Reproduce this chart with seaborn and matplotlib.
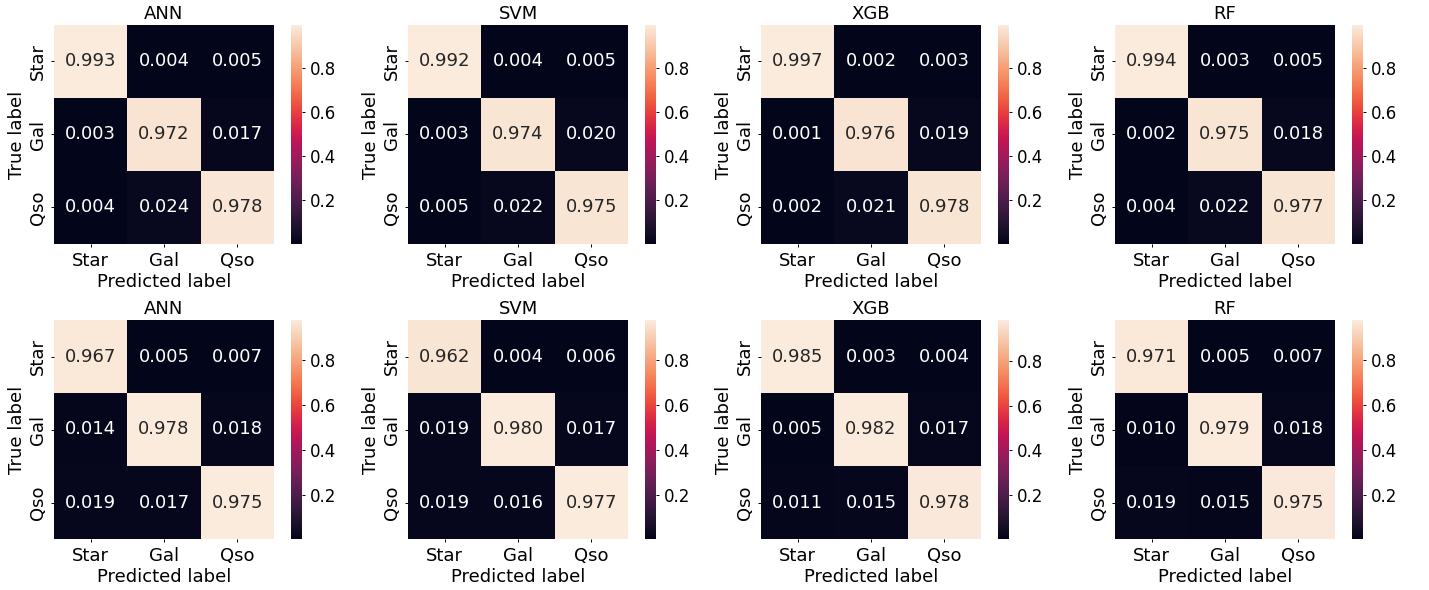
import numpy as np
import matplotlib
matplotlib.use("Agg")
import matplotlib.pyplot as plt
import seaborn as sns

labels = ["Star", "Gal", "Qso"]
models = ["ANN", "SVM", "XGB", "RF"]

# top row
ann_top = [[0.993, 0.004, 0.005], [0.003, 0.972, 0.017], [0.004, 0.024, 0.978]]
svm_top = [[0.992, 0.004, 0.005], [0.003, 0.974, 0.020], [0.005, 0.022, 0.975]]
xgb_top = [[0.997, 0.002, 0.003], [0.001, 0.976, 0.019], [0.002, 0.021, 0.978]]
rf_top = [[0.994, 0.003, 0.005], [0.002, 0.975, 0.018], [0.004, 0.022, 0.977]]
# bottom row
ann_bot = [[0.967, 0.005, 0.007], [0.014, 0.978, 0.018], [0.019, 0.017, 0.975]]
svm_bot = [[0.962, 0.004, 0.006], [0.019, 0.980, 0.017], [0.019, 0.016, 0.977]]
xgb_bot = [[0.985, 0.003, 0.004], [0.005, 0.982, 0.017], [0.011, 0.015, 0.978]]
rf_bot = [[0.971, 0.005, 0.007], [0.010, 0.979, 0.018], [0.019, 0.015, 0.975]]

rows = [[ann_top, svm_top, xgb_top, rf_top], [ann_bot, svm_bot, xgb_bot, rf_bot]]

plt.rcParams['font.family'] = ['DejaVu Sans']
W, H = 1429, 590
fig = plt.figure(figsize=(W / 100, H / 100), dpi=100)

lefts = [54, 408, 761, 1115]
tops = [25, 320]
hw, hh = 220, 219
cb_off, cb_w = 237, 11

for r, row in enumerate(rows):
    for c, mat in enumerate(row):
        x0 = lefts[c]
        y0 = tops[r]
        ax = fig.add_axes([x0 / W, 1 - (y0 + hh) / H, hw / W, hh / H])
        cax = fig.add_axes([(x0 + cb_off) / W, 1 - (y0 + hh) / H, cb_w / W, hh / H])
        sns.heatmap(np.array(mat), annot=True, fmt=".3f", ax=ax, cbar_ax=cax,
                    xticklabels=labels, yticklabels=labels,
                    annot_kws={"fontsize": 13})
        ax.set_title(models[c], fontsize=13, pad=4)
        ax.set_xlabel("Predicted label", fontsize=13, labelpad=2)
        ax.set_ylabel("True label", fontsize=13, labelpad=2)
        ax.tick_params(axis='both', labelsize=13, length=2.5, width=0.7)
        ax.tick_params(axis='y', pad=2.5)
        cax.tick_params(labelsize=12, length=2.5, width=0.7)

fig.savefig("out.png", dpi=100)
